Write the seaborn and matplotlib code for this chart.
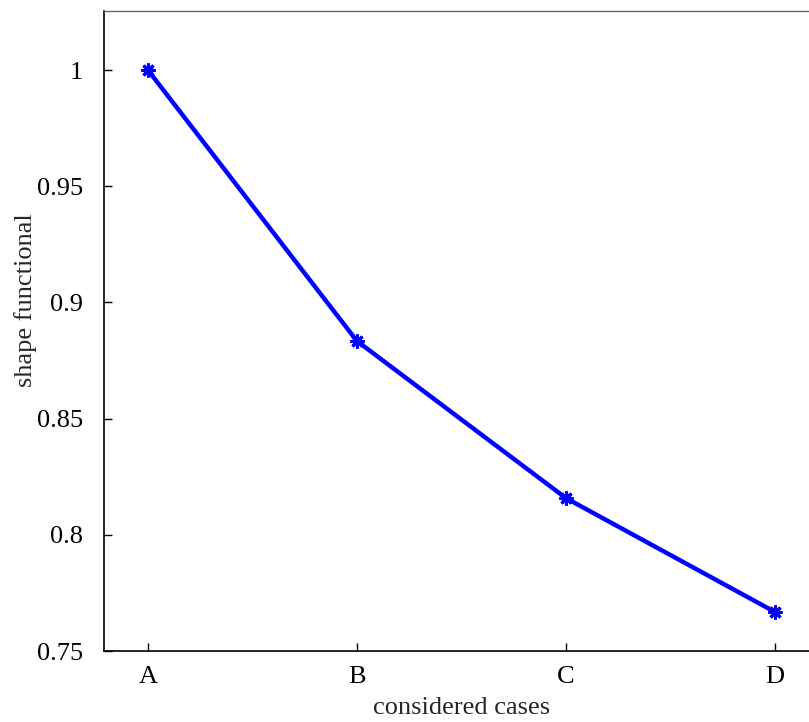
import matplotlib
matplotlib.use("Agg")
import matplotlib.pyplot as plt
import seaborn as sns
import pandas as pd

cases = ["A", "B", "C", "D"]
values = [1.0, 0.8834, 0.8158, 0.7668]
yticks = [0.75, 0.8, 0.85, 0.9, 0.95, 1.0]
ytick_labels = ["0.75", "0.8", "0.85", "0.9", "0.95", "1"]

sns.set_theme(style="white")
plt.rcParams['font.family'] = ['Liberation Serif', 'DejaVu Serif']

df = pd.DataFrame({"x": range(len(cases)), "case": cases, "value": values})

fig = plt.figure(figsize=(8.09, 7.22), dpi=100)
ax = fig.add_axes([104/809, 71/722, 714.8/809, 640/722])
sns.lineplot(data=df, x="x", y="value", ax=ax, color="#0000ff", linewidth=3.2,
             marker=(8, 2, 0), markersize=10, markeredgewidth=2.2,
             markeredgecolor="#0000ff", markerfacecolor="#0000ff")

ax.set_xlim(-0.21, 3.21)
ax.set_ylim(0.75, 1.0254)
ax.set_xticks(range(len(cases)))
ax.set_xticklabels(cases)
ax.set_yticks(yticks)
ax.set_yticklabels(ytick_labels)
ax.tick_params(axis="both", direction="in", labelsize=19, colors="black",
               length=6, width=1, bottom=True, left=True, top=False, right=False)
ax.tick_params(axis="y", pad=15)
ax.tick_params(axis="x", pad=11)
ax.set_xlabel("considered cases", fontsize=19, labelpad=6)
ax.set_ylabel("shape functional", fontsize=19)
ax.yaxis.set_label_coords((37 - 104) / 714.8, (651 - 300) / 640)
for s in ["left", "bottom"]:
    ax.spines[s].set_color("black")
    ax.spines[s].set_linewidth(1.2)
for s in ["top", "right"]:
    ax.spines[s].set_color("#666666")
    ax.spines[s].set_linewidth(1.0)

fig.savefig("out.png", dpi=100)
